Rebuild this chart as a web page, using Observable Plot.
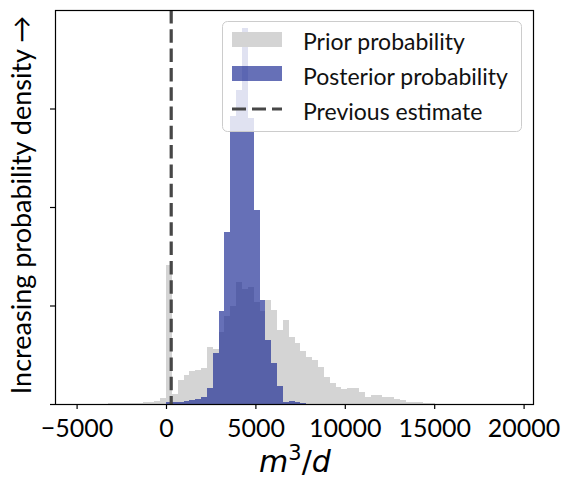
<!DOCTYPE html>
<html><head><meta charset="utf-8">
<script src="https://cdn.jsdelivr.net/npm/d3@7"></script>
<script src="https://cdn.jsdelivr.net/npm/@observablehq/plot@0.6"></script>
<style>body{margin:0;background:#fff} #chart{width:561px;height:481px}</style>
</head><body><div id="chart"></div>
<script>
// ---- data ----
const binWidth = 327;              // m^3/d per bin
const priorFirstBin = -15;         // index of first prior bin (bin k starts at k*binWidth)
const priorDensity = [
  0.003,0.003,0.004,0.004,0.005,0.006,0.007,0.008,0.010,0.012,0.014,0.016,0.02,0.03,0.06,
  1.41,0.10,0.24,0.29,0.33,0.35,0.37,0.58,0.56,0.73,0.89,1.00,1.24,1.17,1.19,1.04,0.94,
  1.06,0.95,0.75,0.85,0.68,0.62,0.54,0.48,0.45,0.38,0.27,0.21,0.17,0.15,0.16,0.16,0.125,
  0.075,0.09,0.09,0.075,0.075,0.05,0.04,0.025,0.025,0.02,0.012,0.008,0.005,0.003,0.002
];
const posteriorFirstBin = -1;
const posteriorDensity = [
  0.005,0.025,0.02,0.025,0.03,0.04,0.05,0.07,0.16,0.52,0.94,1.75,2.92,3.19,3.82,2.90,
  1.97,1.06,0.65,0.42,0.18,0.02,0.03,0.02,0.01
];
const previousEstimate = 263;
const xTicks = [-5000, 0, 5000, 10000, 15000, 20000];
const yTicks = [0, 1, 2, 3];
const legendLabels = ["Prior probability", "Posterior probability", "Previous estimate"];
const yLabel = "Increasing probability density \u2192";

// ---- styles ----
const PRIOR = "#d4d4d4";
const BLUE = "#142390";
const BLUE_OP = 0.65;
const DASH = "#474747";

const toBins = (arr, first) => arr.map((h, i) => ({x1: (first + i) * binWidth, x2: (first + i + 1) * binWidth, h}));
const prior = toBins(priorDensity, priorFirstBin);
const post = toBins(posteriorDensity, posteriorFirstBin);

const svg = Plot.plot({
  width: 561, height: 481,
  marginTop: 10, marginBottom: 77, marginLeft: 55, marginRight: 28,
  x: {domain: [-6208, 20526]},
  y: {domain: [0, 4]},
  style: {fontFamily: "Lato", fontSize: "25px", background: "white", color: "black"},
  marks: [
    Plot.rect(prior, {x1: "x1", x2: "x2", y1: 0, y2: "h", fill: PRIOR, shapeRendering: "crispEdges"}),
    Plot.rect(post, {x1: "x1", x2: "x2", y1: 0, y2: "h", fill: BLUE, fillOpacity: BLUE_OP, shapeRendering: "crispEdges"}),
    Plot.ruleX([previousEstimate], {stroke: DASH, strokeWidth: 3.2, strokeDasharray: "13.5,5.8"}),
    Plot.axisX({ticks: xTicks, tickSize: 5, tickPadding: 10, tickFormat: d3.format("d"), label: null, strokeWidth: 1.2}),
    Plot.axisY({ticks: yTicks, tickSize: 5, tickFormat: () => "", label: null, strokeWidth: 1.2}),
    Plot.frame({stroke: "black", strokeWidth: 1.2})
  ]
});
document.getElementById("chart").appendChild(svg);

const s = d3.select(svg);
// y label
s.append("text")
  .attr("transform", "translate(31,205) rotate(-90)")
  .attr("text-anchor", "middle")
  .attr("font-family", "Lato").attr("font-size", 27).attr("fill", "black")
  .text(yLabel);
// x label m^3/d
const xl = s.append("text")
  .attr("x", 295).attr("y", 471.5).attr("text-anchor", "middle")
  .attr("font-family", "DejaVu Sans").attr("font-size", 30).attr("fill", "black");
xl.append("tspan").attr("font-style", "italic").text("m");
xl.append("tspan").attr("font-size", 21).attr("dy", -12).text("3");
xl.append("tspan").attr("dy", 12).text("/");
xl.append("tspan").attr("font-style", "italic").text("d");

// legend
const lg = s.append("g").attr("text-anchor", "start");
lg.append("rect").attr("x", 222.5).attr("y", 21.5).attr("width", 299).attr("height", 110)
  .attr("rx", 5).attr("fill", "white").attr("fill-opacity", 0.8).attr("stroke", "#cccccc").attr("stroke-width", 1);
lg.append("rect").attr("x", 232).attr("y", 32).attr("width", 50).attr("height", 15).attr("fill", PRIOR);
lg.append("rect").attr("x", 232).attr("y", 66).attr("width", 50).attr("height", 15).attr("fill", BLUE).attr("fill-opacity", BLUE_OP);
lg.append("line").attr("x1", 232).attr("x2", 282).attr("y1", 109).attr("y2", 109)
  .attr("stroke", DASH).attr("stroke-width", 3.2).attr("stroke-dasharray", "14,6");
legendLabels.forEach((t, i) => {
  lg.append("text").attr("x", 303).attr("y", 49.5 + i * 35).attr("text-anchor", "start")
    .attr("font-family", "Lato").attr("font-size", 23).attr("fill", "#111").text(t);
});
</script></body></html>
